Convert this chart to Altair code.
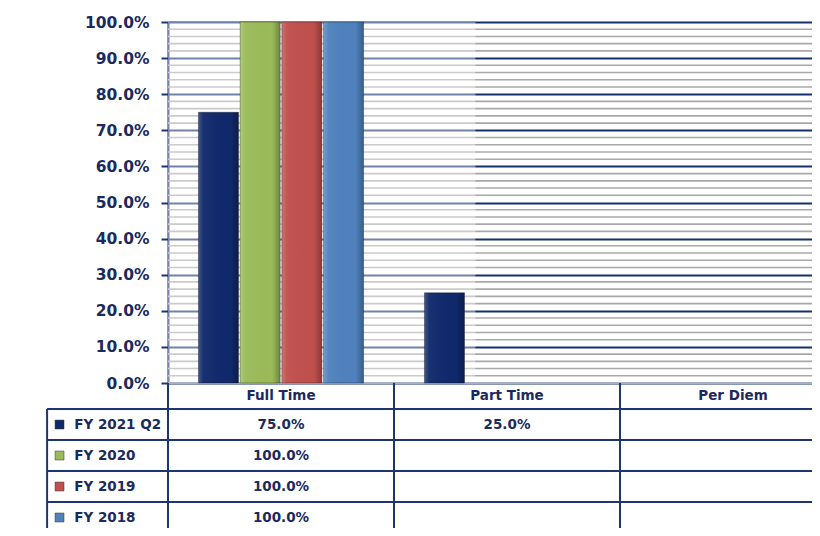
import altair as alt
import pandas as pd

# ---- data ----
categories = ["Full Time", "Part Time", "Per Diem"]
series = ["FY 2021 Q2", "FY 2020", "FY 2019", "FY 2018"]
fy2021_q2 = [0.75, 0.25, None]
fy2020 = [1.00, None, None]
fy2019 = [1.00, None, None]
fy2018 = [1.00, None, None]
series_values = [fy2021_q2, fy2020, fy2019, fy2018]
colors = ["#10296B", "#9BBB59", "#C0504D", "#4F81BD"]
y_ticks = [0.0, 0.1, 0.2, 0.3, 0.4, 0.5, 0.6, 0.7, 0.8, 0.9, 1.0]
minor_ticks = [0.02, 0.04, 0.06, 0.08, 0.12, 0.14, 0.16, 0.18, 0.22, 0.24, 0.26, 0.28,
               0.32, 0.34, 0.36, 0.38, 0.42, 0.44, 0.46, 0.48, 0.52, 0.54, 0.56, 0.58,
               0.62, 0.64, 0.66, 0.68, 0.72, 0.74, 0.76, 0.78, 0.82, 0.84, 0.86, 0.88,
               0.92, 0.94, 0.96, 0.98]

NAVY = "#1F3572"
TEXT = "#1B2A5E"
FONT = "DejaVu Sans"

rows = []
for si, (s, vals) in enumerate(zip(series, series_values)):
    for ci, (c, v) in enumerate(zip(categories, vals)):
        if v is not None:
            rows.append({"series": s, "category": c, "value": v,
                         "col": ci + 0.5, "row": si + 0.5})
bars_df = pd.DataFrame(rows)

W, H = 644, 361
COLW = 226
yscale = alt.Scale(domain=[0, 1], nice=False, zero=True)
tx = alt.Scale(domain=[0, 3], range=[0, 3 * COLW], nice=False, zero=False)
ty = alt.Scale(domain=[-0.84, 4], range=[H, H + 150], nice=False, zero=False)
bx = alt.Scale(domain=categories, range=[0, 3 * COLW], paddingInner=0, paddingOuter=0)
bxo = alt.Scale(domain=series, paddingInner=0.04, paddingOuter=0.73)
cscale = alt.Scale(domain=series, range=colors)

yaxis = alt.Axis(
    values=y_ticks, format=".1%", title=None, orient="left", grid=True,
    gridColor="#15306E", gridWidth=2, labelOverlap=False,
    domainColor=NAVY, domainWidth=2, tickColor=NAVY, tickSize=7, tickWidth=2,
    labelFont=FONT, labelFontWeight="bold", labelFontSize=15.5, labelColor=TEXT,
    labelPadding=12,
)

# ---- plot background stripes ----
stripes = alt.Chart(pd.DataFrame({"v": minor_ticks})).mark_rule(
    color="#A8A8A8", strokeWidth=1.6
).encode(y=alt.Y("v:Q", scale=yscale, axis=yaxis))

floor = alt.Chart(pd.DataFrame({"v": [0.0]})).mark_rule(
    color="#A7B1C6", strokeWidth=2
).encode(y=alt.Y("v:Q", scale=yscale, axis=yaxis))

light = alt.Chart(pd.DataFrame({"x0": [0.0], "x1": [1.36], "y0": [0.0], "y1": [1.0]})).mark_rect(
    color="white", opacity=0.4
).encode(
    x=alt.X("x0:Q", scale=tx, axis=None), x2="x1",
    y=alt.Y("y0:Q", scale=yscale, axis=yaxis), y2="y1",
)

# ---- bars ----
bar_base = alt.Chart(bars_df).encode(
    x=alt.X("category:N", scale=bx, axis=None),
    xOffset=alt.XOffset("series:N", scale=bxo),
)
bars = bar_base.mark_bar().encode(
    y=alt.Y("value:Q", scale=yscale, axis=yaxis),
    color=alt.Color("series:N", scale=cscale, legend=None),
)
gloss = bar_base.mark_bar(
    fill=alt.Gradient(
        gradient="linear", x1=0, x2=1, y1=0, y2=0,
        stops=[
            alt.GradientStop(color="rgba(255,255,255,0.22)", offset=0),
            alt.GradientStop(color="rgba(255,255,255,0.04)", offset=0.12),
            alt.GradientStop(color="rgba(0,0,0,0)", offset=0.8),
            alt.GradientStop(color="rgba(0,0,0,0.28)", offset=1),
        ],
    ),
    stroke="#000000", strokeOpacity=0.3, strokeWidth=1,
).encode(y=alt.Y("value:Q", scale=yscale, axis=yaxis))

plot = alt.layer(stripes, light, floor, bars, gloss).resolve_scale(x="independent")

# ---- data table ----
hlines = alt.Chart(pd.DataFrame({"y": [0, 1, 2, 3, 4], "x0": -0.535, "x1": 3.0})).mark_rule(
    color=NAVY, strokeWidth=2
).encode(
    y=alt.Y("y:Q", scale=ty, axis=None),
    x=alt.X("x0:Q", scale=tx, axis=None), x2="x1",
)
vlines = alt.Chart(pd.DataFrame({"x": [-0.535, 0, 1, 2], "y0": [0, -0.84, -0.84, -0.84], "y1": 4})).mark_rule(
    color=NAVY, strokeWidth=2
).encode(
    x=alt.X("x:Q", scale=tx, axis=None),
    y=alt.Y("y0:Q", scale=ty, axis=None), y2="y1",
)
headers = alt.Chart(pd.DataFrame({"name": categories, "x": [0.5, 1.5, 2.5], "y": -0.42})).mark_text(
    font=FONT, fontWeight="bold", fontSize=13.5, color=TEXT, baseline="middle", align="center"
).encode(
    x=alt.X("x:Q", scale=tx, axis=None), y=alt.Y("y:Q", scale=ty, axis=None), text="name:N"
)
cells = alt.Chart(bars_df).mark_text(
    font=FONT, fontWeight="bold", fontSize=13.5, color=TEXT, baseline="middle", align="center"
).encode(
    x=alt.X("col:Q", scale=tx, axis=None), y=alt.Y("row:Q", scale=ty, axis=None),
    text=alt.Text("value:Q", format=".1%"),
)
leg_df = pd.DataFrame({"series": series, "row": [0.5, 1.5, 2.5, 3.5]})
leg_text = alt.Chart(leg_df).transform_calculate(lx="-0.415").mark_text(
    font=FONT, fontWeight="bold", fontSize=13.5, color=TEXT, baseline="middle", align="left"
).encode(
    x=alt.X("lx:Q", scale=tx, axis=None),
    y=alt.Y("row:Q", scale=ty, axis=None), text="series:N",
)
leg_sq = alt.Chart(leg_df).transform_calculate(sx="-0.48").mark_square(
    size=80, opacity=1, stroke="#333333", strokeWidth=0.5
).encode(
    x=alt.X("sx:Q", scale=tx, axis=None),
    y=alt.Y("row:Q", scale=ty, axis=None),
    color=alt.Color("series:N", scale=cscale, legend=None),
)
table = alt.layer(hlines, vlines, headers, cells, leg_text, leg_sq)

chart = alt.layer(plot, table).resolve_scale(
    x="independent", y="independent"
).properties(
    width=W, height=H,
    autosize=alt.AutoSizeParams(type="none"),
    padding={"left": 160, "top": 14, "right": 0, "bottom": 145},
).configure_view(strokeWidth=0)

chart.save("out.html", embed_options={"renderer": "svg", "actions": False})
